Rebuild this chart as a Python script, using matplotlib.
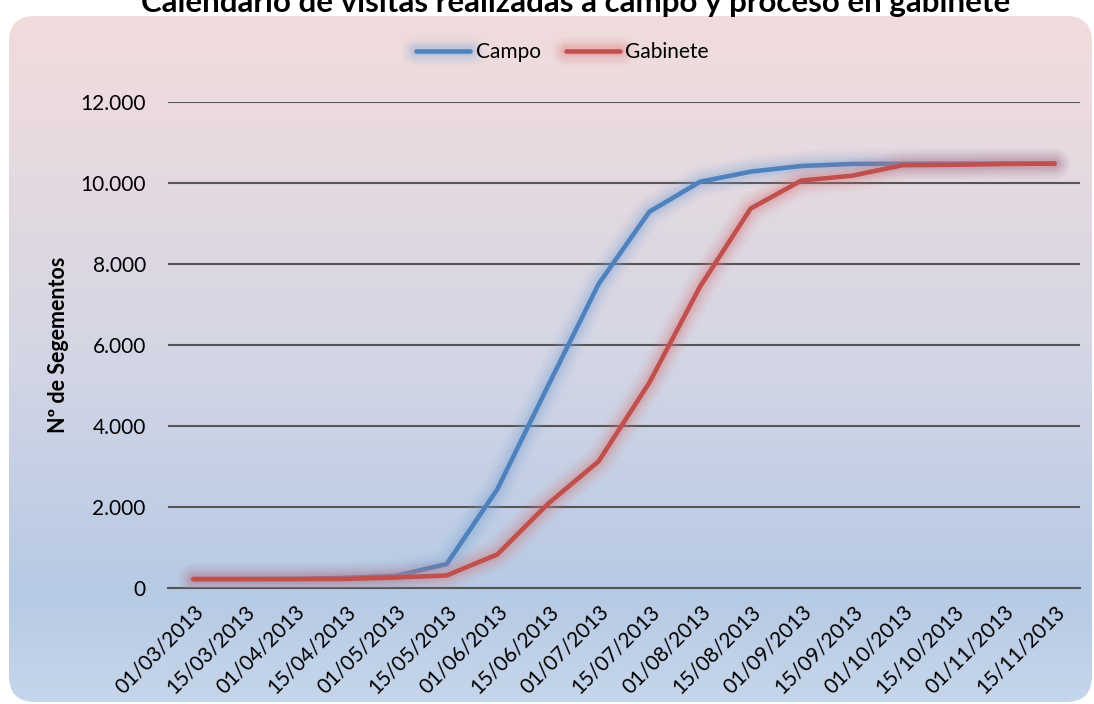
import numpy as np
import matplotlib
matplotlib.use("Agg")
import matplotlib.pyplot as plt
from matplotlib.patches import FancyBboxPatch
from matplotlib.ticker import FuncFormatter
import matplotlib.patheffects as pe

plt.rcParams['font.family'] = ['Lato', 'DejaVu Sans']

fechas = ['01/03/2013', '15/03/2013', '01/04/2013', '15/04/2013', '01/05/2013',
          '15/05/2013', '01/06/2013', '15/06/2013', '01/07/2013', '15/07/2013',
          '01/08/2013', '15/08/2013', '01/09/2013', '15/09/2013', '01/10/2013',
          '15/10/2013', '01/11/2013', '15/11/2013']
campo = [220, 220, 225, 250, 300, 590, 2440, 4990, 7510, 9290,
         10030, 10280, 10420, 10470, 10475, 10478, 10480, 10480]
gabinete = [220, 220, 220, 225, 260, 310, 830, 2080, 3130, 5070,
            7440, 9370, 10060, 10180, 10440, 10450, 10470, 10480]

W, H = 1094, 704
fig = plt.figure(figsize=(W / 100, H / 100), dpi=100)
fig.patch.set_facecolor('white')

# fondo degradado con esquinas redondeadas
bg = fig.add_axes([0, 0, 1, 1], zorder=-1)
bg.set_xlim(0, W)
bg.set_ylim(H, 0)
bg.axis('off')
stops_y = [16, 120, 350, 590, 704]
stops_c = np.array([[242, 220, 220], [234, 218, 223], [212, 214, 229],
                    [183, 202, 228], [198, 214, 235]]) / 255.0
yy = np.arange(H)
grad = np.stack([np.interp(yy, stops_y, stops_c[:, k]) for k in range(3)], axis=1)
img = np.repeat(grad[:, None, :], 4, axis=1)
box = FancyBboxPatch((9, 16), 1083, 686, boxstyle="round,pad=0,rounding_size=26",
                     facecolor='none', edgecolor='none', transform=bg.transData)
bg.add_patch(box)
im = bg.imshow(img, extent=[0, W, H, 0], aspect='auto', interpolation='bilinear')
im.set_clip_path(box)

ax = fig.add_axes([168 / W, 1 - 588 / H, (1080 - 168) / W, (588 - 102) / H])
ax.patch.set_alpha(0)
x = np.arange(len(fechas))

def glow(color):
    return [pe.Stroke(linewidth=w, foreground=color, alpha=a)
            for w, a in [(22, 0.05), (18, 0.07), (14, 0.09), (10, 0.12), (7, 0.15)]] + [pe.Normal()]

ax.plot(x, campo, color='#4F81BD', lw=3.3, label='Campo', solid_capstyle='round',
        path_effects=glow('#7FA6D8'), zorder=3)
ax.plot(x, gabinete, color='#C0504D', lw=3.3, label='Gabinete', solid_capstyle='round',
        path_effects=glow('#D9797A'), zorder=4)

ax.set_xlim(-0.5, len(fechas) - 0.5)
ax.set_ylim(0, 12000)
ax.set_yticks(range(0, 12001, 2000))
ax.yaxis.set_major_formatter(FuncFormatter(lambda v, p: f"{int(v):,}".replace(',', '.')))
ax.grid(axis='y', color='#555555', lw=1.5, zorder=1)
for s in ['top', 'right', 'left']:
    ax.spines[s].set_visible(False)
ax.spines['bottom'].set_color('#555555')
ax.spines['bottom'].set_linewidth(1.5)
ax.tick_params(axis='both', length=0, labelsize=15, colors='black')
ax.tick_params(axis='y', pad=16)
ax.set_xticks(x)
ax.set_xticklabels(fechas, rotation=45, ha='right', rotation_mode='anchor')
ax.tick_params(axis='x', pad=10)
ax.set_ylabel('Nº de Segementos', fontsize=15.5, fontweight='bold', labelpad=8)

fig.legend(loc='center', bbox_to_anchor=(0.514, 1 - 52 / H), ncol=2, frameon=False,
           fontsize=15, handlelength=2.6, columnspacing=1.2, handletextpad=0.25)

fig.text(0.526, 1 - 12 / H, 'Calendario de visitas realizadas a campo y proceso en gabinete',
         ha='center', va='baseline', fontsize=22.5, fontweight='bold')

fig.savefig('out.png', dpi=100)
